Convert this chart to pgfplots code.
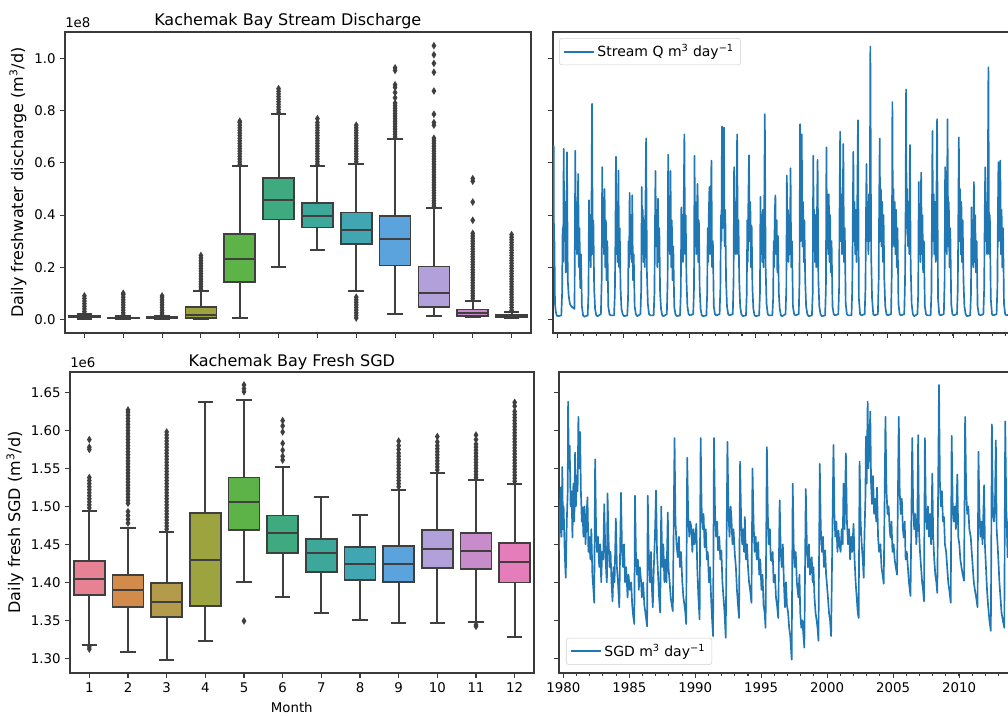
\documentclass[border=0pt]{standalone}
\usepackage{fontspec}
\setmainfont{DejaVu Sans}
\usepackage{pgfplots}
\pgfplotsset{compat=1.18}
\usepgfplotslibrary{statistics}

\definecolor{tabblue}{HTML}{1F77B4}
\definecolor{bxl}{HTML}{3F3F3F}
\definecolor{axgray}{HTML}{3A3A3A}
\definecolor{c1}{HTML}{E68294}
\definecolor{c2}{HTML}{D38B4C}
\definecolor{c3}{HTML}{B39B4B}
\definecolor{c4}{HTML}{9DA43F}
\definecolor{c5}{HTML}{5DB347}
\definecolor{c6}{HTML}{3FAA80}
\definecolor{c7}{HTML}{3DA89A}
\definecolor{c8}{HTML}{41A6B1}
\definecolor{c9}{HTML}{5AA3DC}
\definecolor{c10}{HTML}{B2A0DA}
\definecolor{c11}{HTML}{C98CCB}
\definecolor{c12}{HTML}{E47DB9}

\pgfdeclareplotmark{thind}{%
  \pgfpathmoveto{\pgfqpoint{0pt}{\pgfplotmarksize}}%
  \pgfpathlineto{\pgfqpoint{0.62\pgfplotmarksize}{0pt}}%
  \pgfpathlineto{\pgfqpoint{0pt}{-\pgfplotmarksize}}%
  \pgfpathlineto{\pgfqpoint{-0.62\pgfplotmarksize}{0pt}}%
  \pgfpathclose\pgfusepathqfill}

\pgfplotsset{
  base/.style={
    scale only axis,
    axis line style={draw=axgray, line width=0.8pt},
    tick pos=left,
    tick align=outside,
    major tick length=3.5pt,
    minor tick length=2pt,
    tick style={draw=axgray, line width=0.8pt},
    tick label style={font=\fontsize{10}{12}\selectfont},
    /pgf/number format/assume math mode=true,
    scaled ticks=false,
  },
  bx/.style={
    boxplot/draw direction=y,
    boxplot/box extend=0.8,
    boxplot/whisker extend=0.4,
  },
  bp/.style={draw=bxl, line width=1.3pt, fill=#1, mark=thind,
    mark size=2.9pt, mark options={fill=bxl, draw=none},
    boxplot/every box/.style={draw=bxl, line width=1.3pt},
    boxplot/every whisker/.style={draw=bxl, line width=1.5pt},
    boxplot/every median/.style={draw=bxl, line width=1.5pt}},
  ts/.style={color=tabblue, line width=1.25pt, line join=round, mark=none},
  lg/.style={
    legend image code/.code={\draw[##1] (0pt,0pt) -- (22pt,0pt);},
    legend style={draw=black!18, fill=white, rounded corners=2pt,
      font=\fontsize{10.5}{12}\selectfont, inner xsep=3pt, inner ysep=2.5pt,
      cells={anchor=west}}},
}

\begin{document}
\begin{tikzpicture}

% ---------------- top-right: stream Q time series ----------------
\begin{axis}[base, lg,
  at={(414.75pt,286.5pt)}, anchor=south west,
  width=349.5pt, height=225.75pt,
  xmin=1979.67, xmax=2015.0, ymin=-0.0525, ymax=1.1025,
  xtick={1980,1985,...,2010}, xticklabels={},
  minor xtick={1979,...,2015},
  ytick={0,0.2,0.4,0.6,0.8,1.0}, yticklabels={},
  legend style={at={(0.013,0.98)}, anchor=north west},
]
\addlegendimage{draw=tabblue, line width=1.6pt}
\addlegendentry{Stream Q m\textsuperscript{3} day\textsuperscript{−1}}
\addplot[ts, forget plot] table[row sep=\\] {x y\\
1979.67 0.55\\ 1979.70 0.35\\ 1979.72 0.666\\ 1979.75 0.20\\ 1979.78 0.30\\ 1979.82 0.06\\ 1979.88 0.03\\ 1979.95 0.015\\
1980.05 0.012\\ 1980.30 0.015\\ 1980.36 0.10\\ 1980.40 0.35\\ 1980.44 0.22\\ 1980.48 0.654\\ 1980.53 0.30\\ 1980.58 0.45\\ 1980.63 0.18\\ 1980.68 0.40\\ 1980.73 0.641\\ 1980.79 0.15\\ 1980.86 0.09\\ 1980.95 0.06\\
1981.05 0.05\\ 1981.30 0.04\\ 1981.36 0.647\\ 1981.40 0.30\\ 1981.44 0.45\\ 1981.48 0.25\\ 1981.53 0.40\\ 1981.58 0.558\\ 1981.63 0.20\\ 1981.68 0.35\\ 1981.73 0.12\\ 1981.79 0.25\\ 1981.86 0.05\\ 1981.95 0.015\\
1982.05 0.01\\ 1982.30 0.015\\ 1982.36 0.10\\ 1982.40 0.457\\ 1982.44 0.25\\ 1982.48 0.40\\ 1982.53 0.20\\ 1982.58 0.35\\ 1982.63 0.827\\ 1982.68 0.25\\ 1982.73 0.38\\ 1982.79 0.12\\ 1982.86 0.04\\ 1982.95 0.015\\
1983.05 0.012\\ 1983.30 0.02\\ 1983.36 0.15\\ 1983.40 0.584\\ 1983.44 0.30\\ 1983.48 0.45\\ 1983.53 0.25\\ 1983.58 0.50\\ 1983.63 0.20\\ 1983.68 0.38\\ 1983.73 0.15\\ 1983.79 0.30\\ 1983.86 0.05\\ 1983.95 0.02\\
1984.05 0.015\\ 1984.30 0.015\\ 1984.36 0.10\\ 1984.40 0.30\\ 1984.44 0.624\\ 1984.48 0.25\\ 1984.53 0.45\\ 1984.58 0.22\\ 1984.63 0.571\\ 1984.68 0.20\\ 1984.73 0.35\\ 1984.79 0.12\\ 1984.86 0.04\\ 1984.95 0.02\\
1985.05 0.012\\ 1985.30 0.015\\ 1985.36 0.08\\ 1985.40 0.30\\ 1985.44 0.20\\ 1985.48 0.485\\ 1985.53 0.25\\ 1985.58 0.40\\ 1985.63 0.22\\ 1985.68 0.476\\ 1985.73 0.15\\ 1985.79 0.25\\ 1985.86 0.05\\ 1985.95 0.02\\
1986.05 0.012\\ 1986.30 0.02\\ 1986.36 0.12\\ 1986.40 0.508\\ 1986.44 0.25\\ 1986.48 0.42\\ 1986.53 0.22\\ 1986.58 0.38\\ 1986.63 0.20\\ 1986.68 0.45\\ 1986.73 0.694\\ 1986.79 0.18\\ 1986.86 0.06\\ 1986.95 0.02\\
1987.05 0.015\\ 1987.30 0.015\\ 1987.36 0.10\\ 1987.40 0.35\\ 1987.44 0.569\\ 1987.48 0.28\\ 1987.53 0.42\\ 1987.58 0.20\\ 1987.63 0.463\\ 1987.68 0.22\\ 1987.73 0.35\\ 1987.79 0.10\\ 1987.86 0.04\\ 1987.95 0.015\\
1988.05 0.012\\ 1988.30 0.02\\ 1988.36 0.15\\ 1988.40 0.632\\ 1988.44 0.28\\ 1988.48 0.45\\ 1988.53 0.25\\ 1988.58 0.569\\ 1988.63 0.20\\ 1988.68 0.38\\ 1988.73 0.15\\ 1988.79 0.28\\ 1988.86 0.05\\ 1988.95 0.02\\
1989.05 0.012\\ 1989.30 0.015\\ 1989.36 0.10\\ 1989.40 0.43\\ 1989.44 0.25\\ 1989.48 0.40\\ 1989.53 0.22\\ 1989.58 0.45\\ 1989.63 0.71\\ 1989.68 0.25\\ 1989.73 0.40\\ 1989.79 0.15\\ 1989.86 0.05\\ 1989.95 0.02\\
1990.05 0.015\\ 1990.30 0.02\\ 1990.36 0.12\\ 1990.40 0.628\\ 1990.44 0.30\\ 1990.48 0.45\\ 1990.53 0.25\\ 1990.58 0.40\\ 1990.63 0.52\\ 1990.68 0.22\\ 1990.73 0.38\\ 1990.79 0.12\\ 1990.86 0.04\\ 1990.95 0.015\\
1991.05 0.012\\ 1991.30 0.015\\ 1991.36 0.10\\ 1991.40 0.35\\ 1991.44 0.22\\ 1991.48 0.40\\ 1991.53 0.508\\ 1991.58 0.25\\ 1991.63 0.42\\ 1991.68 0.609\\ 1991.73 0.20\\ 1991.79 0.30\\ 1991.86 0.05\\ 1991.95 0.02\\
1992.05 0.015\\ 1992.30 0.02\\ 1992.36 0.12\\ 1992.40 0.40\\ 1992.44 0.30\\ 1992.48 0.74\\ 1992.53 0.35\\ 1992.58 0.50\\ 1992.63 0.736\\ 1992.68 0.28\\ 1992.73 0.42\\ 1992.79 0.15\\ 1992.86 0.05\\ 1992.95 0.02\\
1993.05 0.015\\ 1993.30 0.02\\ 1993.36 0.15\\ 1993.40 0.584\\ 1993.44 0.30\\ 1993.48 0.45\\ 1993.53 0.25\\ 1993.58 0.42\\ 1993.63 0.71\\ 1993.68 0.25\\ 1993.73 0.38\\ 1993.79 0.15\\ 1993.86 0.05\\ 1993.95 0.02\\
1994.05 0.012\\ 1994.30 0.015\\ 1994.36 0.10\\ 1994.40 0.38\\ 1994.44 0.22\\ 1994.48 0.45\\ 1994.53 0.63\\ 1994.58 0.30\\ 1994.63 0.45\\ 1994.68 0.20\\ 1994.73 0.36\\ 1994.79 0.12\\ 1994.86 0.04\\ 1994.95 0.015\\
1995.05 0.012\\ 1995.30 0.015\\ 1995.36 0.10\\ 1995.40 0.47\\ 1995.44 0.25\\ 1995.48 0.40\\ 1995.53 0.22\\ 1995.58 0.42\\ 1995.63 0.20\\ 1995.68 0.38\\ 1995.73 0.787\\ 1995.79 0.20\\ 1995.86 0.06\\ 1995.95 0.02\\
1996.05 0.015\\ 1996.30 0.015\\ 1996.36 0.08\\ 1996.40 0.30\\ 1996.44 0.20\\ 1996.48 0.40\\ 1996.53 0.476\\ 1996.58 0.25\\ 1996.63 0.38\\ 1996.68 0.18\\ 1996.73 0.32\\ 1996.79 0.10\\ 1996.86 0.04\\ 1996.95 0.015\\
1997.05 0.012\\ 1997.30 0.02\\ 1997.36 0.12\\ 1997.40 0.552\\ 1997.44 0.28\\ 1997.48 0.42\\ 1997.53 0.22\\ 1997.58 0.40\\ 1997.63 0.25\\ 1997.68 0.58\\ 1997.73 0.20\\ 1997.79 0.30\\ 1997.86 0.05\\ 1997.95 0.02\\
1998.05 0.015\\ 1998.30 0.02\\ 1998.36 0.15\\ 1998.40 0.749\\ 1998.44 0.30\\ 1998.48 0.45\\ 1998.53 0.71\\ 1998.58 0.28\\ 1998.63 0.45\\ 1998.68 0.22\\ 1998.73 0.38\\ 1998.79 0.15\\ 1998.86 0.05\\ 1998.95 0.02\\
1999.05 0.012\\ 1999.30 0.015\\ 1999.36 0.10\\ 1999.40 0.628\\ 1999.44 0.28\\ 1999.48 0.42\\ 1999.53 0.22\\ 1999.58 0.40\\ 1999.63 0.20\\ 1999.68 0.38\\ 1999.73 0.612\\ 1999.79 0.15\\ 1999.86 0.05\\ 1999.95 0.02\\
2000.05 0.012\\ 2000.30 0.015\\ 2000.36 0.12\\ 2000.40 0.66\\ 2000.44 0.30\\ 2000.48 0.45\\ 2000.53 0.25\\ 2000.58 0.48\\ 2000.63 0.22\\ 2000.68 0.40\\ 2000.73 0.18\\ 2000.79 0.30\\ 2000.86 0.05\\ 2000.95 0.02\\
2001.05 0.015\\ 2001.30 0.02\\ 2001.36 0.12\\ 2001.40 0.45\\ 2001.44 0.72\\ 2001.48 0.30\\ 2001.53 0.48\\ 2001.58 0.25\\ 2001.63 0.40\\ 2001.68 0.673\\ 2001.73 0.22\\ 2001.79 0.35\\ 2001.86 0.06\\ 2001.95 0.02\\
2002.05 0.015\\ 2002.30 0.015\\ 2002.36 0.12\\ 2002.40 0.40\\ 2002.44 0.643\\ 2002.48 0.30\\ 2002.53 0.45\\ 2002.58 0.25\\ 2002.63 0.42\\ 2002.68 0.22\\ 2002.73 0.40\\ 2002.79 0.764\\ 2002.86 0.08\\ 2002.95 0.02\\
2003.05 0.015\\ 2003.30 0.02\\ 2003.36 0.12\\ 2003.40 0.40\\ 2003.44 0.596\\ 2003.48 0.30\\ 2003.53 0.45\\ 2003.58 0.25\\ 2003.63 0.48\\ 2003.68 0.30\\ 2003.73 1.047\\ 2003.79 0.25\\ 2003.86 0.08\\ 2003.95 0.02\\
2004.05 0.015\\ 2004.30 0.02\\ 2004.36 0.15\\ 2004.40 0.45\\ 2004.44 0.694\\ 2004.48 0.30\\ 2004.53 0.50\\ 2004.58 0.28\\ 2004.63 0.45\\ 2004.68 0.22\\ 2004.73 0.40\\ 2004.79 0.15\\ 2004.86 0.05\\ 2004.95 0.02\\
2005.05 0.015\\ 2005.30 0.02\\ 2005.36 0.20\\ 2005.40 0.834\\ 2005.44 0.35\\ 2005.48 0.50\\ 2005.53 0.28\\ 2005.58 0.45\\ 2005.63 0.25\\ 2005.68 0.42\\ 2005.73 0.20\\ 2005.79 0.35\\ 2005.86 0.06\\ 2005.95 0.02\\
2006.05 0.015\\ 2006.30 0.02\\ 2006.36 0.15\\ 2006.40 0.40\\ 2006.44 0.882\\ 2006.48 0.35\\ 2006.53 0.50\\ 2006.58 0.28\\ 2006.63 0.45\\ 2006.68 0.25\\ 2006.73 0.669\\ 2006.79 0.20\\ 2006.86 0.06\\ 2006.95 0.02\\
2007.05 0.012\\ 2007.30 0.02\\ 2007.36 0.10\\ 2007.40 0.527\\ 2007.44 0.25\\ 2007.48 0.42\\ 2007.53 0.22\\ 2007.58 0.563\\ 2007.63 0.25\\ 2007.68 0.40\\ 2007.73 0.18\\ 2007.79 0.30\\ 2007.86 0.05\\ 2007.95 0.02\\
2008.05 0.015\\ 2008.30 0.015\\ 2008.36 0.10\\ 2008.40 0.40\\ 2008.44 0.723\\ 2008.48 0.30\\ 2008.53 0.48\\ 2008.58 0.25\\ 2008.63 0.45\\ 2008.68 0.22\\ 2008.73 0.40\\ 2008.79 0.768\\ 2008.86 0.08\\ 2008.95 0.02\\
2009.05 0.015\\ 2009.30 0.02\\ 2009.36 0.15\\ 2009.40 0.584\\ 2009.44 0.28\\ 2009.48 0.45\\ 2009.53 0.25\\ 2009.58 0.768\\ 2009.63 0.28\\ 2009.68 0.45\\ 2009.73 0.20\\ 2009.79 0.35\\ 2009.86 0.06\\ 2009.95 0.02\\
2010.05 0.015\\ 2010.30 0.02\\ 2010.36 0.12\\ 2010.40 0.40\\ 2010.44 0.698\\ 2010.48 0.30\\ 2010.53 0.50\\ 2010.58 0.25\\ 2010.63 0.45\\ 2010.68 0.22\\ 2010.73 0.38\\ 2010.79 0.15\\ 2010.86 0.05\\ 2010.95 0.02\\
2011.05 0.012\\ 2011.30 0.015\\ 2011.36 0.10\\ 2011.40 0.43\\ 2011.44 0.22\\ 2011.48 0.38\\ 2011.53 0.20\\ 2011.58 0.527\\ 2011.63 0.22\\ 2011.68 0.40\\ 2011.73 0.18\\ 2011.79 0.30\\ 2011.86 0.05\\ 2011.95 0.02\\
2012.05 0.015\\ 2012.30 0.02\\ 2012.36 0.12\\ 2012.40 0.40\\ 2012.44 0.584\\ 2012.48 0.30\\ 2012.53 0.45\\ 2012.58 0.25\\ 2012.63 0.48\\ 2012.68 0.967\\ 2012.73 0.25\\ 2012.79 0.40\\ 2012.86 0.08\\ 2012.95 0.02\\
2013.05 0.015\\ 2013.30 0.02\\ 2013.36 0.12\\ 2013.40 0.40\\ 2013.44 0.603\\ 2013.48 0.30\\ 2013.53 0.45\\ 2013.58 0.609\\ 2013.63 0.25\\ 2013.68 0.42\\ 2013.73 0.20\\ 2013.79 0.35\\ 2013.86 0.06\\ 2013.95 0.02\\
2014.05 0.015\\ 2014.30 0.02\\ 2014.36 0.12\\ 2014.40 0.55\\ 2014.44 0.30\\ 2014.48 0.50\\ 2014.53 0.25\\ 2014.58 0.45\\ 2014.63 0.22\\ 2014.68 0.40\\ 2014.73 0.18\\ 2014.79 0.30\\ 2014.86 0.05\\ 2014.95 0.02\\
};
\end{axis}

% ---------------- bottom-right: SGD time series ----------------
\begin{axis}[base, lg,
  at={(419.25pt,31.5pt)}, anchor=south west,
  width=349.5pt, height=225.75pt,
  xmin=1979.67, xmax=2015.0, ymin=1.2805, ymax=1.677,
  xtick={1980,1985,...,2010}, xticklabels={1980,1985,1990,1995,2000,2005,2010},
  minor xtick={1979,...,2015},
  ytick={1.30,1.35,1.40,1.45,1.50,1.55,1.60,1.65}, yticklabels={},
  legend style={at={(0.015,0.027)}, anchor=south west},
]
\addlegendimage{draw=tabblue, line width=1.6pt}
\addlegendentry{SGD m\textsuperscript{3} day\textsuperscript{−1}}
\addplot[ts, forget plot] table[row sep=\\] {x y\\
1979.67 1.442\\ 1979.75 1.50\\ 1979.80 1.525\\ 1979.86 1.46\\ 1979.92 1.552\\ 1979.97 1.47\\
1980.02 1.50\\ 1980.10 1.44\\ 1980.18 1.406\\ 1980.26 1.48\\ 1980.33 1.52\\ 1980.36 1.638\\ 1980.42 1.55\\ 1980.48 1.58\\ 1980.55 1.50\\ 1980.62 1.52\\ 1980.69 1.459\\ 1980.76 1.53\\ 1980.83 1.48\\ 1980.89 1.571\\ 1980.95 1.50\\
1981.02 1.54\\ 1981.08 1.52\\ 1981.14 1.618\\ 1981.20 1.55\\ 1981.27 1.598\\ 1981.33 1.52\\ 1981.40 1.48\\ 1981.45 1.499\\ 1981.52 1.46\\ 1981.60 1.50\\ 1981.68 1.45\\ 1981.76 1.49\\ 1981.83 1.512\\ 1981.90 1.44\\ 1981.96 1.46\\
1982.05 1.43\\ 1982.12 1.47\\ 1982.20 1.41\\ 1982.28 1.39\\ 1982.34 1.373\\ 1982.41 1.562\\ 1982.48 1.47\\ 1982.55 1.44\\ 1982.62 1.46\\ 1982.72 1.42\\ 1982.80 1.45\\ 1982.87 1.40\\ 1982.94 1.44\\
1983.02 1.43\\ 1983.10 1.503\\ 1983.18 1.44\\ 1983.26 1.41\\ 1983.30 1.40\\ 1983.35 1.517\\ 1983.42 1.46\\ 1983.50 1.42\\ 1983.58 1.44\\ 1983.65 1.40\\ 1983.73 1.375\\ 1983.80 1.42\\ 1983.88 1.40\\ 1983.98 1.484\\
1984.06 1.42\\ 1984.14 1.40\\ 1984.24 1.367\\ 1984.37 1.518\\ 1984.45 1.44\\ 1984.53 1.42\\ 1984.60 1.45\\ 1984.68 1.40\\ 1984.76 1.42\\ 1984.87 1.38\\ 1984.94 1.41\\
1985.04 1.39\\ 1985.14 1.40\\ 1985.22 1.37\\ 1985.30 1.355\\ 1985.38 1.345\\ 1985.43 1.514\\ 1985.50 1.44\\ 1985.58 1.41\\ 1985.65 1.43\\ 1985.72 1.39\\ 1985.80 1.42\\ 1985.89 1.402\\ 1985.95 1.38\\
1986.05 1.40\\ 1986.14 1.37\\ 1986.22 1.36\\ 1986.35 1.342\\ 1986.40 1.514\\ 1986.48 1.43\\ 1986.56 1.40\\ 1986.64 1.44\\ 1986.72 1.39\\ 1986.78 1.367\\ 1986.86 1.42\\ 1986.94 1.46\\
1987.03 1.521\\ 1987.10 1.44\\ 1987.18 1.41\\ 1987.26 1.38\\ 1987.34 1.36\\ 1987.42 1.50\\ 1987.50 1.42\\ 1987.58 1.45\\ 1987.66 1.40\\ 1987.74 1.43\\ 1987.82 1.40\\ 1987.92 1.492\\ 1987.97 1.42\\
1988.06 1.40\\ 1988.14 1.38\\ 1988.22 1.37\\ 1988.30 1.362\\ 1988.43 1.59\\ 1988.50 1.48\\ 1988.58 1.45\\ 1988.68 1.433\\ 1988.76 1.46\\ 1988.84 1.42\\ 1988.92 1.44\\
1989.02 1.40\\ 1989.10 1.38\\ 1989.18 1.37\\ 1989.25 1.36\\ 1989.31 1.345\\ 1989.39 1.564\\ 1989.46 1.49\\ 1989.55 1.46\\ 1989.62 1.48\\ 1989.70 1.473\\ 1989.78 1.44\\ 1989.86 1.47\\ 1989.94 1.45\\
1990.02 1.46\\ 1990.08 1.477\\ 1990.15 1.42\\ 1990.24 1.38\\ 1990.33 1.351\\ 1990.41 1.59\\ 1990.48 1.50\\ 1990.56 1.47\\ 1990.63 1.49\\ 1990.71 1.446\\ 1990.80 1.47\\ 1990.88 1.43\\ 1990.95 1.44\\
1991.04 1.40\\ 1991.12 1.42\\ 1991.20 1.38\\ 1991.28 1.35\\ 1991.35 1.329\\ 1991.42 1.59\\ 1991.50 1.49\\ 1991.58 1.46\\ 1991.66 1.48\\ 1991.73 1.442\\ 1991.82 1.46\\ 1991.90 1.43\\ 1991.98 1.442\\
1992.06 1.40\\ 1992.14 1.38\\ 1992.22 1.36\\ 1992.31 1.327\\ 1992.44 1.585\\ 1992.52 1.49\\ 1992.60 1.46\\ 1992.68 1.50\\ 1992.74 1.486\\ 1992.82 1.45\\ 1992.90 1.47\\
1993.00 1.437\\ 1993.08 1.42\\ 1993.16 1.39\\ 1993.24 1.37\\ 1993.32 1.353\\ 1993.40 1.559\\ 1993.48 1.48\\ 1993.56 1.45\\ 1993.64 1.47\\ 1993.70 1.44\\ 1993.76 1.486\\ 1993.84 1.43\\ 1993.92 1.45\\
1994.00 1.42\\ 1994.08 1.40\\ 1994.16 1.39\\ 1994.26 1.373\\ 1994.34 1.55\\ 1994.42 1.48\\ 1994.50 1.44\\ 1994.58 1.46\\ 1994.66 1.43\\ 1994.77 1.453\\ 1994.85 1.41\\ 1994.93 1.43\\
1995.02 1.39\\ 1995.10 1.41\\ 1995.18 1.37\\ 1995.26 1.36\\ 1995.33 1.34\\ 1995.43 1.578\\ 1995.50 1.49\\ 1995.58 1.45\\ 1995.66 1.47\\ 1995.72 1.43\\ 1995.79 1.428\\ 1995.87 1.44\\ 1995.94 1.40\\
1996.04 1.41\\ 1996.12 1.38\\ 1996.20 1.37\\ 1996.29 1.353\\ 1996.40 1.508\\ 1996.48 1.44\\ 1996.56 1.42\\ 1996.64 1.45\\ 1996.72 1.40\\ 1996.80 1.367\\ 1996.88 1.40\\ 1996.95 1.37\\
1997.04 1.36\\ 1997.12 1.34\\ 1997.20 1.33\\ 1997.31 1.298\\ 1997.39 1.53\\ 1997.46 1.45\\ 1997.54 1.42\\ 1997.62 1.44\\ 1997.70 1.40\\ 1997.82 1.38\\ 1997.90 1.41\\ 1997.96 1.36\\
1998.04 1.34\\ 1998.12 1.35\\ 1998.20 1.33\\ 1998.27 1.314\\ 1998.38 1.523\\ 1998.46 1.45\\ 1998.54 1.42\\ 1998.62 1.45\\ 1998.70 1.41\\ 1998.83 1.433\\ 1998.90 1.40\\ 1998.96 1.42\\
1999.04 1.38\\ 1999.12 1.36\\ 1999.20 1.35\\ 1999.27 1.34\\ 1999.34 1.323\\ 1999.44 1.556\\ 1999.52 1.47\\ 1999.60 1.44\\ 1999.68 1.46\\ 1999.76 1.42\\ 1999.85 1.442\\ 1999.92 1.41\\ 1999.97 1.40\\
2000.06 1.38\\ 2000.14 1.36\\ 2000.22 1.35\\ 2000.30 1.329\\ 2000.48 1.581\\ 2000.55 1.49\\ 2000.62 1.46\\ 2000.70 1.48\\ 2000.78 1.44\\ 2000.86 1.468\\ 2000.93 1.45\\
2001.02 1.44\\ 2001.10 1.47\\ 2001.18 1.45\\ 2001.24 1.53\\ 2001.32 1.47\\ 2001.42 1.57\\ 2001.50 1.48\\ 2001.58 1.45\\ 2001.66 1.47\\ 2001.74 1.43\\ 2001.82 1.46\\ 2001.90 1.44\\
2002.00 1.477\\ 2002.08 1.43\\ 2002.16 1.40\\ 2002.24 1.38\\ 2002.32 1.36\\ 2002.39 1.353\\ 2002.46 1.559\\ 2002.54 1.48\\ 2002.62 1.45\\ 2002.70 1.43\\ 2002.77 1.406\\ 2002.84 1.47\\ 2002.90 1.51\\ 2002.94 1.592\\
2003.00 1.53\\ 2003.07 1.638\\ 2003.13 1.55\\ 2003.20 1.58\\ 2003.27 1.625\\ 2003.33 1.53\\ 2003.40 1.503\\ 2003.48 1.54\\ 2003.56 1.49\\ 2003.64 1.51\\ 2003.72 1.48\\ 2003.78 1.525\\ 2003.86 1.46\\ 2003.94 1.44\\
2004.04 1.45\\ 2004.12 1.42\\ 2004.20 1.41\\ 2004.29 1.398\\ 2004.42 1.618\\ 2004.50 1.52\\ 2004.58 1.49\\ 2004.66 1.50\\ 2004.74 1.47\\ 2004.80 1.459\\ 2004.88 1.48\\ 2004.95 1.44\\
2005.04 1.45\\ 2005.12 1.43\\ 2005.20 1.42\\ 2005.30 1.41\\ 2005.43 1.618\\ 2005.50 1.52\\ 2005.58 1.49\\ 2005.66 1.51\\ 2005.74 1.47\\ 2005.81 1.459\\ 2005.88 1.48\\ 2005.95 1.43\\
2006.04 1.44\\ 2006.12 1.42\\ 2006.20 1.40\\ 2006.32 1.382\\ 2006.45 1.59\\ 2006.52 1.50\\ 2006.60 1.47\\ 2006.68 1.49\\ 2006.76 1.45\\ 2006.84 1.48\\ 2006.90 1.594\\ 2006.96 1.47\\
2007.04 1.44\\ 2007.12 1.42\\ 2007.20 1.40\\ 2007.27 1.39\\ 2007.34 1.375\\ 2007.41 1.59\\ 2007.48 1.50\\ 2007.56 1.47\\ 2007.64 1.50\\ 2007.72 1.46\\ 2007.80 1.49\\ 2007.88 1.45\\ 2007.97 1.543\\
2008.04 1.46\\ 2008.12 1.43\\ 2008.20 1.41\\ 2008.28 1.40\\ 2008.35 1.386\\ 2008.48 1.66\\ 2008.55 1.53\\ 2008.62 1.50\\ 2008.70 1.52\\ 2008.78 1.48\\ 2008.86 1.486\\ 2008.93 1.45\\
2009.02 1.44\\ 2009.10 1.42\\ 2009.18 1.40\\ 2009.26 1.39\\ 2009.37 1.373\\ 2009.44 1.593\\ 2009.52 1.50\\ 2009.60 1.48\\ 2009.68 1.50\\ 2009.76 1.47\\ 2009.87 1.542\\ 2009.94 1.46\\
2010.02 1.45\\ 2010.10 1.43\\ 2010.18 1.42\\ 2010.28 1.41\\ 2010.38 1.402\\ 2010.46 1.618\\ 2010.54 1.52\\ 2010.62 1.49\\ 2010.70 1.50\\ 2010.78 1.47\\ 2010.89 1.459\\ 2010.96 1.44\\
2011.04 1.42\\ 2011.12 1.40\\ 2011.20 1.39\\ 2011.30 1.38\\ 2011.40 1.367\\ 2011.47 1.572\\ 2011.55 1.49\\ 2011.62 1.46\\ 2011.70 1.48\\ 2011.78 1.45\\ 2011.90 1.528\\ 2011.96 1.45\\
2012.04 1.42\\ 2012.12 1.39\\ 2012.20 1.37\\ 2012.30 1.35\\ 2012.41 1.336\\ 2012.49 1.608\\ 2012.56 1.50\\ 2012.64 1.48\\ 2012.72 1.50\\ 2012.79 1.587\\ 2012.85 1.47\\ 2012.92 1.45\\ 2012.98 1.43\\
2013.06 1.40\\ 2013.14 1.38\\ 2013.22 1.36\\ 2013.32 1.35\\ 2013.43 1.34\\ 2013.50 1.612\\ 2013.58 1.50\\ 2013.68 1.433\\ 2013.76 1.48\\ 2013.82 1.50\\ 2013.88 1.565\\ 2013.94 1.47\\
2014.04 1.44\\ 2014.12 1.42\\ 2014.22 1.40\\ 2014.32 1.38\\ 2014.42 1.60\\ 2014.50 1.50\\ 2014.60 1.47\\ 2014.70 1.49\\ 2014.80 1.46\\ 2014.90 1.47\\ 2014.97 1.45\\
};
\end{axis}

% ---------------- top-left: stream discharge boxplots ----------------
\begin{axis}[base, bx,
  at={(48.75pt,286.5pt)}, anchor=south west,
  width=349.5pt, height=225.75pt,
  xmin=0.5, xmax=12.5, ymin=-0.0525, ymax=1.1025,
  xtick={1,...,12}, xticklabels={},
  ytick={0,0.2,0.4,0.6,0.8,1.0},
  yticklabel style={/pgf/number format/fixed, /pgf/number format/fixed zerofill, /pgf/number format/precision=1},
  title={Kachemak Bay Stream Discharge},
  title style={font=\fontsize{12}{14}\selectfont, at={(0.478,1)}, anchor=base, yshift=-1.5pt},
  ylabel={Daily freshwater discharge (m\textsuperscript{3}/d)},
  ylabel style={font=\fontsize{12}{14}\selectfont, at={(axis description cs:-0.101,0.5)}, anchor=center},
]
\addplot[bp=c1, boxplot prepared={draw position=1, lower whisker=0.002, lower quartile=0.007, median=0.009, upper quartile=0.012, upper whisker=0.019}]
 table[row sep=\\, y index=0] {d\\ 0.022\\ 0.03\\ 0.04\\ 0.05\\ 0.06\\ 0.07\\ 0.08\\ 0.09\\};
\addplot[bp=c2, boxplot prepared={draw position=2, lower whisker=0.001, lower quartile=0.004, median=0.005, upper quartile=0.007, upper whisker=0.012}]
 table[row sep=\\, y index=0] {d\\ 0.016\\ 0.025\\ 0.035\\ 0.045\\ 0.055\\ 0.065\\ 0.075\\ 0.085\\ 0.095\\ 0.10\\};
\addplot[bp=c3, boxplot prepared={draw position=3, lower whisker=0.001, lower quartile=0.004, median=0.006, upper quartile=0.008, upper whisker=0.013}]
 table[row sep=\\, y index=0] {d\\ 0.017\\ 0.025\\ 0.035\\ 0.045\\ 0.055\\ 0.065\\ 0.075\\ 0.085\\ 0.09\\};
\addplot[bp=c4, boxplot prepared={draw position=4, lower whisker=0.0, lower quartile=0.004, median=0.018, upper quartile=0.047, upper whisker=0.11}]
 table[row sep=\\, y index=0] {d\\ 0.115\\ 0.125\\ 0.135\\ 0.145\\ 0.155\\ 0.165\\ 0.175\\ 0.185\\ 0.195\\ 0.205\\ 0.215\\ 0.225\\ 0.235\\ 0.245\\};
\addplot[bp=c5, boxplot prepared={draw position=5, lower whisker=0.006, lower quartile=0.142, median=0.233, upper quartile=0.326, upper whisker=0.588}]
 table[row sep=\\, y index=0] {d\\ 0.595\\ 0.605\\ 0.615\\ 0.625\\ 0.635\\ 0.645\\ 0.655\\ 0.665\\ 0.675\\ 0.685\\ 0.695\\ 0.705\\ 0.715\\ 0.725\\ 0.735\\ 0.745\\ 0.755\\ 0.76\\};
\addplot[bp=c6, boxplot prepared={draw position=6, lower whisker=0.199, lower quartile=0.383, median=0.459, upper quartile=0.543, upper whisker=0.787}]
 table[row sep=\\, y index=0] {d\\ 0.795\\ 0.805\\ 0.815\\ 0.825\\ 0.835\\ 0.845\\ 0.855\\ 0.865\\ 0.875\\ 0.885\\};
\addplot[bp=c7, boxplot prepared={draw position=7, lower whisker=0.265, lower quartile=0.352, median=0.397, upper quartile=0.447, upper whisker=0.588}]
 table[row sep=\\, y index=0] {d\\ 0.595\\ 0.605\\ 0.615\\ 0.625\\ 0.635\\ 0.645\\ 0.655\\ 0.665\\ 0.675\\ 0.685\\ 0.695\\ 0.705\\ 0.715\\ 0.725\\ 0.735\\ 0.745\\ 0.755\\ 0.77\\};
\addplot[bp=c8, boxplot prepared={draw position=8, lower whisker=0.110, lower quartile=0.288, median=0.341, upper quartile=0.41, upper whisker=0.596}]
 table[row sep=\\, y index=0] {d\\ 0.005\\ 0.015\\ 0.025\\ 0.035\\ 0.045\\ 0.055\\ 0.065\\ 0.075\\ 0.085\\ 0.605\\ 0.615\\ 0.625\\ 0.635\\ 0.645\\ 0.655\\ 0.665\\ 0.675\\ 0.685\\ 0.695\\ 0.705\\ 0.715\\ 0.725\\ 0.735\\ 0.745\\};
\addplot[bp=c9, boxplot prepared={draw position=9, lower whisker=0.019, lower quartile=0.206, median=0.308, upper quartile=0.397, upper whisker=0.692}]
 table[row sep=\\, y index=0] {d\\ 0.70\\ 0.71\\ 0.72\\ 0.73\\ 0.74\\ 0.75\\ 0.76\\ 0.77\\ 0.78\\ 0.79\\ 0.80\\ 0.81\\ 0.82\\ 0.83\\ 0.85\\ 0.87\\ 0.89\\ 0.90\\ 0.955\\ 0.965\\};
\addplot[bp=c10, boxplot prepared={draw position=10, lower whisker=0.013, lower quartile=0.048, median=0.10, upper quartile=0.203, upper whisker=0.429}]
 table[row sep=\\, y index=0] {d\\ 0.435\\ 0.445\\ 0.455\\ 0.465\\ 0.475\\ 0.485\\ 0.495\\ 0.505\\ 0.515\\ 0.525\\ 0.535\\ 0.545\\ 0.555\\ 0.565\\ 0.575\\ 0.585\\ 0.595\\ 0.605\\ 0.615\\ 0.625\\ 0.635\\ 0.645\\ 0.655\\ 0.665\\ 0.675\\ 0.685\\ 0.695\\ 0.745\\ 0.755\\ 0.787\\ 0.876\\ 0.948\\ 0.982\\ 1.015\\ 1.05\\};
\addplot[bp=c11, boxplot prepared={draw position=11, lower whisker=0.009, lower quartile=0.013, median=0.025, upper quartile=0.038, upper whisker=0.072}]
 table[row sep=\\, y index=0] {d\\ 0.08\\ 0.09\\ 0.10\\ 0.11\\ 0.12\\ 0.13\\ 0.14\\ 0.15\\ 0.16\\ 0.17\\ 0.18\\ 0.19\\ 0.20\\ 0.21\\ 0.22\\ 0.23\\ 0.24\\ 0.25\\ 0.26\\ 0.27\\ 0.28\\ 0.29\\ 0.30\\ 0.31\\ 0.32\\ 0.33\\ 0.38\\ 0.45\\ 0.53\\ 0.54\\};
\addplot[bp=c12, boxplot prepared={draw position=12, lower whisker=0.004, lower quartile=0.008, median=0.012, upper quartile=0.017, upper whisker=0.028}]
 table[row sep=\\, y index=0] {d\\ 0.035\\ 0.045\\ 0.055\\ 0.065\\ 0.075\\ 0.085\\ 0.095\\ 0.105\\ 0.115\\ 0.125\\ 0.135\\ 0.145\\ 0.155\\ 0.165\\ 0.175\\ 0.185\\ 0.195\\ 0.205\\ 0.215\\ 0.225\\ 0.235\\ 0.245\\ 0.255\\ 0.265\\ 0.275\\ 0.285\\ 0.295\\ 0.305\\ 0.315\\ 0.325\\};
\end{axis}
\node[anchor=south west, inner sep=0pt, font=\fontsize{10}{12}\selectfont] at (48.75pt,515pt) {1e8};

% ---------------- bottom-left: SGD boxplots ----------------
\begin{axis}[base, bx,
  at={(52.5pt,31.5pt)}, anchor=south west,
  width=348pt, height=225.75pt,
  xmin=0.5, xmax=12.5, ymin=1.2805, ymax=1.677,
  xtick={1,...,12},
  ytick={1.30,1.35,1.40,1.45,1.50,1.55,1.60,1.65},
  yticklabel style={/pgf/number format/fixed, /pgf/number format/fixed zerofill, /pgf/number format/precision=2},
  title={Kachemak Bay Fresh SGD},
  title style={font=\fontsize{12}{14}\selectfont, at={(0.478,1)}, anchor=base, yshift=-1.5pt},
  ylabel={Daily fresh SGD (m\textsuperscript{3}/d)},
  ylabel style={font=\fontsize{12}{14}\selectfont, at={(axis description cs:-0.1185,0.5)}, anchor=center},
  xlabel={Month},
  xlabel style={font=\fontsize{10}{12}\selectfont, at={(axis description cs:0.478,-0.116)}, anchor=center},
]
\addplot[bp=c1, boxplot prepared={draw position=1, lower whisker=1.3176, lower quartile=1.383, median=1.4045, upper quartile=1.428, upper whisker=1.494}]
 table[row sep=\\, y index=0] {d\\ 1.312\\ 1.315\\ 1.498\\ 1.502\\ 1.506\\ 1.510\\ 1.514\\ 1.518\\ 1.522\\ 1.526\\ 1.530\\ 1.534\\ 1.538\\ 1.575\\ 1.578\\ 1.588\\};
\addplot[bp=c2, boxplot prepared={draw position=2, lower whisker=1.308, lower quartile=1.367, median=1.39, upper quartile=1.41, upper whisker=1.472}]
 table[row sep=\\, y index=0] {d\\ 1.478\\ 1.483\\ 1.488\\ 1.493\\ 1.504\\ 1.508\\ 1.512\\ 1.516\\ 1.520\\ 1.524\\ 1.528\\ 1.532\\ 1.536\\ 1.540\\ 1.544\\ 1.548\\ 1.552\\ 1.556\\ 1.560\\ 1.564\\ 1.568\\ 1.572\\ 1.576\\ 1.580\\ 1.584\\ 1.588\\ 1.592\\ 1.596\\ 1.600\\ 1.604\\ 1.608\\ 1.612\\ 1.616\\ 1.620\\ 1.624\\ 1.627\\};
\addplot[bp=c3, boxplot prepared={draw position=3, lower whisker=1.298, lower quartile=1.354, median=1.374, upper quartile=1.399, upper whisker=1.466}]
 table[row sep=\\, y index=0] {d\\ 1.470\\ 1.474\\ 1.478\\ 1.482\\ 1.486\\ 1.490\\ 1.494\\ 1.498\\ 1.502\\ 1.506\\ 1.510\\ 1.514\\ 1.518\\ 1.522\\ 1.526\\ 1.530\\ 1.534\\ 1.538\\ 1.542\\ 1.546\\ 1.550\\ 1.554\\ 1.558\\ 1.562\\ 1.566\\ 1.570\\ 1.574\\ 1.578\\ 1.582\\ 1.586\\ 1.590\\ 1.594\\ 1.598\\};
\addplot[bp=c4, boxplot prepared={draw position=4, lower whisker=1.323, lower quartile=1.369, median=1.43, upper quartile=1.491, upper whisker=1.638}]
 coordinates {};
\addplot[bp=c5, boxplot prepared={draw position=5, lower whisker=1.40, lower quartile=1.469, median=1.5055, upper quartile=1.538, upper whisker=1.640}]
 table[row sep=\\, y index=0] {d\\ 1.349\\ 1.651\\ 1.655\\ 1.660\\};
\addplot[bp=c6, boxplot prepared={draw position=6, lower whisker=1.380, lower quartile=1.439, median=1.4647, upper quartile=1.488, upper whisker=1.5517}]
 table[row sep=\\, y index=0] {d\\ 1.561\\ 1.566\\ 1.574\\ 1.583\\ 1.598\\ 1.606\\ 1.613\\};
\addplot[bp=c7, boxplot prepared={draw position=7, lower whisker=1.360, lower quartile=1.414, median=1.439, upper quartile=1.457, upper whisker=1.512}]
 coordinates {};
\addplot[bp=c8, boxplot prepared={draw position=8, lower whisker=1.350, lower quartile=1.403, median=1.424, upper quartile=1.446, upper whisker=1.489}]
 coordinates {};
\addplot[bp=c9, boxplot prepared={draw position=9, lower whisker=1.347, lower quartile=1.400, median=1.424, upper quartile=1.448, upper whisker=1.522}]
 table[row sep=\\, y index=0] {d\\ 1.526\\ 1.530\\ 1.534\\ 1.538\\ 1.542\\ 1.546\\ 1.550\\ 1.554\\ 1.558\\ 1.562\\ 1.566\\ 1.570\\ 1.575\\ 1.580\\ 1.586\\};
\addplot[bp=c10, boxplot prepared={draw position=10, lower whisker=1.347, lower quartile=1.4186, median=1.4436, upper quartile=1.469, upper whisker=1.544}]
 table[row sep=\\, y index=0] {d\\ 1.548\\ 1.552\\ 1.556\\ 1.560\\ 1.564\\ 1.568\\ 1.572\\ 1.576\\ 1.580\\ 1.585\\ 1.592\\};
\addplot[bp=c11, boxplot prepared={draw position=11, lower whisker=1.348, lower quartile=1.4177, median=1.4414, upper quartile=1.4647, upper whisker=1.5345}]
 table[row sep=\\, y index=0] {d\\ 1.342\\ 1.344\\ 1.538\\ 1.542\\ 1.546\\ 1.550\\ 1.554\\ 1.558\\ 1.562\\ 1.566\\ 1.570\\ 1.574\\ 1.578\\ 1.582\\ 1.588\\ 1.594\\};
\addplot[bp=c12, boxplot prepared={draw position=12, lower whisker=1.3285, lower quartile=1.3997, median=1.4265, upper quartile=1.4515, upper whisker=1.529}]
 table[row sep=\\, y index=0] {d\\ 1.533\\ 1.537\\ 1.541\\ 1.545\\ 1.549\\ 1.553\\ 1.557\\ 1.561\\ 1.565\\ 1.569\\ 1.573\\ 1.577\\ 1.581\\ 1.585\\ 1.589\\ 1.593\\ 1.597\\ 1.601\\ 1.605\\ 1.609\\ 1.613\\ 1.617\\ 1.621\\ 1.625\\ 1.632\\ 1.637\\};
\end{axis}
\node[anchor=south west, inner sep=0pt, font=\fontsize{10}{12}\selectfont] at (52.5pt,260pt) {1e6};

\pgfresetboundingbox
\path[use as bounding box] (0pt,0pt) rectangle (756pt,536.25pt);
\end{tikzpicture}
\end{document}
